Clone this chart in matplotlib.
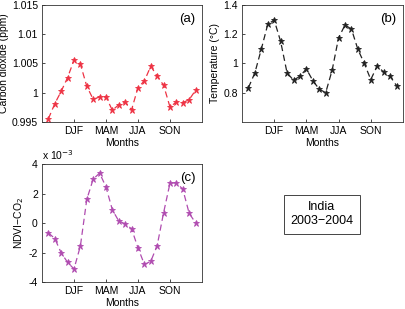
import numpy as np
import matplotlib
matplotlib.use('Agg')
import matplotlib.pyplot as plt
from matplotlib.ticker import FuncFormatter

# monthly values, 2003-2004 (24 months)
months = np.arange(1, 25)
season_ticks = [5, 10, 15, 20]
season_labels = ['DJF', 'MAM', 'JJA', 'SON']

co2 = [0.99557, 0.99814, 1.00026, 1.0026, 1.00557, 1.00489, 1.00111, 0.99889,
       0.99929, 0.99929, 0.9970, 0.99797, 0.99837, 0.99711, 1.00089, 1.00203,
       1.00454, 1.00283, 1.00129, 0.99757, 0.99843, 0.99831, 0.99883, 1.00043]

temp = [0.835, 0.936, 1.098, 1.267, 1.297, 1.151, 0.936, 0.886,
        0.913, 0.963, 0.883, 0.824, 0.801, 0.954, 1.176, 1.263,
        1.235, 1.096, 1.0, 0.890, 0.984, 0.941, 0.913, 0.849]

ndvi_co2 = [-0.66e-3, -1.05e-3, -2.02e-3, -2.66e-3, -3.11e-3, -1.55e-3, 1.61e-3, 2.98e-3,
            3.39e-3, 2.45e-3, 0.89e-3, 0.14e-3, -0.05e-3, -0.39e-3, -1.68e-3, -2.80e-3,
            -2.59e-3, -1.52e-3, 0.70e-3, 2.70e-3, 2.73e-3, 2.30e-3, 0.66e-3, 0.02e-3]

plt.rcParams['font.family'] = ['Liberation Sans', 'DejaVu Sans']
plt.rcParams['font.size'] = 7.5

fig = plt.figure(figsize=(4.05, 3.09), dpi=100)
ax_a = fig.add_axes([0.1037, 0.605, 0.395, 0.379])
ax_b = fig.add_axes([0.5975, 0.605, 0.3975, 0.379])
ax_c = fig.add_axes([0.1037, 0.087, 0.395, 0.382])

dash = (0, (5, 3))

def style(ax, tag):
    ax.set_xlim(0, 25)
    ax.set_xticks(season_ticks)
    ax.set_xticklabels(season_labels)
    ax.set_xlabel('Months', labelpad=1.5)
    ax.tick_params(direction='in', length=2, width=0.5, labelsize=7.5, pad=3)
    for s in ax.spines.values():
        s.set_linewidth(0.6)
        s.set_color('#333333')
    ax.text(0.96, 0.93, tag, transform=ax.transAxes, ha='right', va='top', fontsize=9.5)

ax_a.plot(months, co2, color='#ee3344', linestyle=dash, linewidth=0.9,
          marker='*', markersize=4.5, markeredgewidth=0.6)
ax_a.set_ylim(0.995, 1.015)
ax_a.set_yticks([0.995, 1.0, 1.005, 1.01, 1.015])
ax_a.set_yticklabels(['0.995', '1', '1.005', '1.01', '1.015'])
ax_a.set_ylabel('Carbon dioxide (ppm)', labelpad=2)
style(ax_a, '(a)')

ax_b.plot(months, temp, color='#222222', linestyle=dash, linewidth=0.9,
          marker='*', markersize=4.5, markeredgewidth=0.6)
ax_b.set_ylim(0.6, 1.4)
ax_b.set_yticks([0.8, 1.0, 1.2, 1.4])
ax_b.set_yticklabels(['0.8', '1', '1.2', '1.4'])
ax_b.set_ylabel('Temperature (°C)', labelpad=2)
style(ax_b, '(b)')

ax_c.plot(months, ndvi_co2, color='#b04cb0', linestyle=dash, linewidth=0.9,
          marker='*', markersize=4.5, markeredgewidth=0.6)
ax_c.set_ylim(-4e-3, 4e-3)
ax_c.set_yticks([-4e-3, -2e-3, 0, 2e-3, 4e-3])
ax_c.yaxis.set_major_formatter(FuncFormatter(lambda v, p: '%g' % round(v * 1e3)))
ax_c.set_ylabel('NDVI\u2212CO$_2$', labelpad=2)
ax_c.text(0.0, 1.02, 'x 10$^{-3}$', transform=ax_c.transAxes, ha='left', va='bottom', fontsize=7.5)
style(ax_c, '(c)')

fig.text(0.795, 0.307, 'India\n2003\u22122004', ha='center', va='center', fontsize=9,
         linespacing=1.3,
         bbox=dict(boxstyle='square,pad=0.5', facecolor='white', edgecolor='#444444', linewidth=0.7))

fig.savefig('out.png', dpi=100)
